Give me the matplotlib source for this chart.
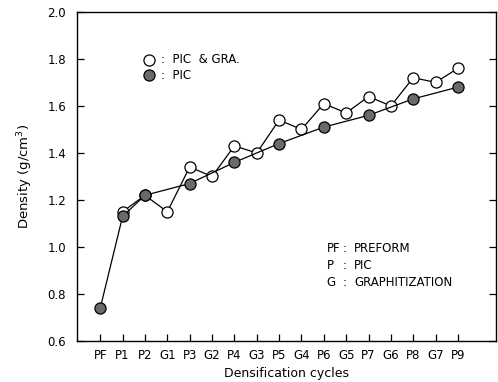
import matplotlib
matplotlib.use("Agg")
import matplotlib.pyplot as plt

cycles = ["PF", "P1", "P2", "G1", "P3", "G2", "P4", "G3", "P5", "G4",
          "P6", "G5", "P7", "G6", "P8", "G7", "P9"]

# PIC & graphitization (open circles), starts at P1
gra_idx = list(range(1, 17))
gra_val = [1.15, 1.22, 1.15, 1.34, 1.30, 1.43, 1.40, 1.54, 1.50,
           1.61, 1.57, 1.64, 1.60, 1.72, 1.70, 1.76]

# PIC only (filled circles), only at PF and P steps
pic_idx = [0, 1, 2, 4, 6, 8, 10, 12, 14, 16]
pic_val = [0.74, 1.13, 1.22, 1.27, 1.36, 1.44, 1.51, 1.56, 1.63, 1.68]

abbrev = ["PF", "P", "G"]
meaning = ["PREFORM", "PIC", "GRAPHITIZATION"]

plt.rcParams['font.family'] = ['DejaVu Sans']
fig = plt.figure(figsize=(4.98, 3.82), dpi=100)
ax = fig.add_axes([0.155, 0.107, 0.841, 0.862])

ax.plot(gra_idx, gra_val, '-', color='black', lw=0.9, marker='o', ms=8,
        mfc='white', mec='black', mew=0.9, zorder=2)
ax.plot(pic_idx, pic_val, '-', color='black', lw=0.9, marker='o', ms=8,
        mfc='#6a6a6a', mec='black', mew=0.9, zorder=3)

ax.set_xlim(-1.03, 17.7)
ax.set_ylim(0.6, 2.0)
ax.set_xticks(range(len(cycles)))
ax.set_xticklabels(cycles)
ax.set_yticks([0.6, 0.8, 1.0, 1.2, 1.4, 1.6, 1.8, 2.0])
ax.set_yticklabels(["0.6", "0.8", "1.0", "1.2", "1.4", "1.6", "1.8", "2.0"])
ax.tick_params(direction='in', length=5, width=0.9, labelsize=8.5,
               right=True, top=False, pad=8)
ax.tick_params(axis='x', pad=6)
for s in ax.spines.values():
    s.set_linewidth(1.0)

ax.set_xlabel("Densification cycles", fontsize=9, labelpad=3)
ax.set_ylabel("Density (g/cm$^3$)", fontsize=9.5)
ax.yaxis.set_label_coords(-0.10, 0.5)

# legend drawn as in the original figure
ax.plot([2.2], [1.797], 'o', ms=8, mfc='white', mec='black', mew=0.9, clip_on=False)
ax.plot([2.2], [1.73], 'o', ms=8, mfc='#6a6a6a', mec='black', mew=0.9, clip_on=False)
ax.text(2.72, 1.797, ":  PIC  & GRA.", fontsize=8.5, va='center')
ax.text(2.72, 1.73, ":  PIC", fontsize=8.5, va='center')

# abbreviation key
for i, (a, m) in enumerate(zip(abbrev, meaning)):
    yy = 0.995 - i * 0.0725
    ax.text(10.13, yy, a, fontsize=8.5, va='center')
    ax.text(10.85, yy, ":", fontsize=8.5, va='center')
    ax.text(11.35, yy, m, fontsize=8.5, va='center')

fig.savefig("out.png", dpi=100)
